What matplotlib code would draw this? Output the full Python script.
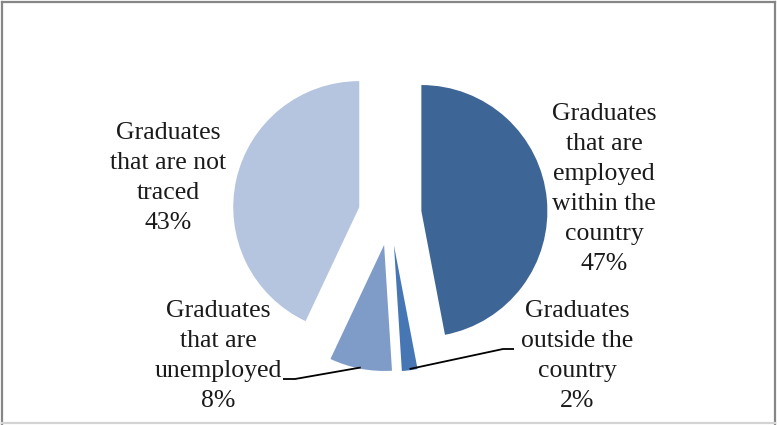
import numpy as np
from matplotlib import pyplot as plt
from matplotlib.lines import Line2D

# Graduate tracer study shares
labels = ["Graduates\nthat are\nemployed\nwithin the\ncountry",
          "Graduates\noutside the\ncountry",
          "Graduates\nthat are\nunemployed",
          "Graduates\nthat are not\ntraced"]
shares = [47, 2, 8, 43]
colors = ["#3d6595", "#4676b4", "#7f9cc8", "#b5c4df"]

W, H = 777, 425
R = 126            # pie radius in pixels
CX, CY = 390, 214  # pie centre in pixels (from top-left)
EXPLODE = 0.25

def px(x, y):
    return (x - CX) / R, (CY - y) / R

fig = plt.figure(figsize=(W / 100, H / 100), dpi=100)
ax = fig.add_axes([0, 0, 1, 1])

wedges, _ = ax.pie(shares, colors=colors, startangle=90, counterclock=False,
                   explode=[EXPLODE] * len(shares), radius=1,
                   wedgeprops=dict(linewidth=0))

# pie() resets the limits, so set them afterwards
ax.set_xlim(-CX / R, (W - CX) / R)
ax.set_ylim(-(H - CY) / R, CY / R)
ax.set_aspect("equal")
ax.axis("off")

font = dict(family="Liberation Serif", size=18.5, color="#1a1a1a")

label_pos = [(604, 189), (577, 356), (218, 356), (168, 178)]
for lab, val, (lx, ly) in zip(labels, shares, label_pos):
    ax.text(*px(lx, ly), f"{lab}\n{val}%", ha="center", va="center",
            multialignment="center", linespacing=1.46, **font)

# leader lines for the two small slices
leaders = {1: [(503, 349), (514, 349)], 2: [(295, 379), (283, 379)]}
for i, pts in leaders.items():
    w = wedges[i]
    mid = np.deg2rad((w.theta1 + w.theta2) / 2)
    cx, cy = w.center
    ax0 = cx + np.cos(mid) * 0.99
    ay0 = cy + np.sin(mid) * 0.99
    xs = [ax0] + [px(*p)[0] for p in pts]
    ys = [ay0] + [px(*p)[1] for p in pts]
    ax.plot(xs, ys, color="black", linewidth=1.3, solid_capstyle="butt")

# chart frame
def fline(x0, y0, x1, y1, c):
    fig.add_artist(Line2D([x0 / W, x1 / W], [1 - y0 / H, 1 - y1 / H],
                          color=c, linewidth=1.6, transform=fig.transFigure))

fline(2, 2, 775, 2, "#868686")
fline(2, 2, 2, 424, "#868686")
fline(775, 2, 775, 424, "#868686")
fline(2, 423, 775, 423, "#d4d4d4")

fig.savefig("out.png", dpi=100)
